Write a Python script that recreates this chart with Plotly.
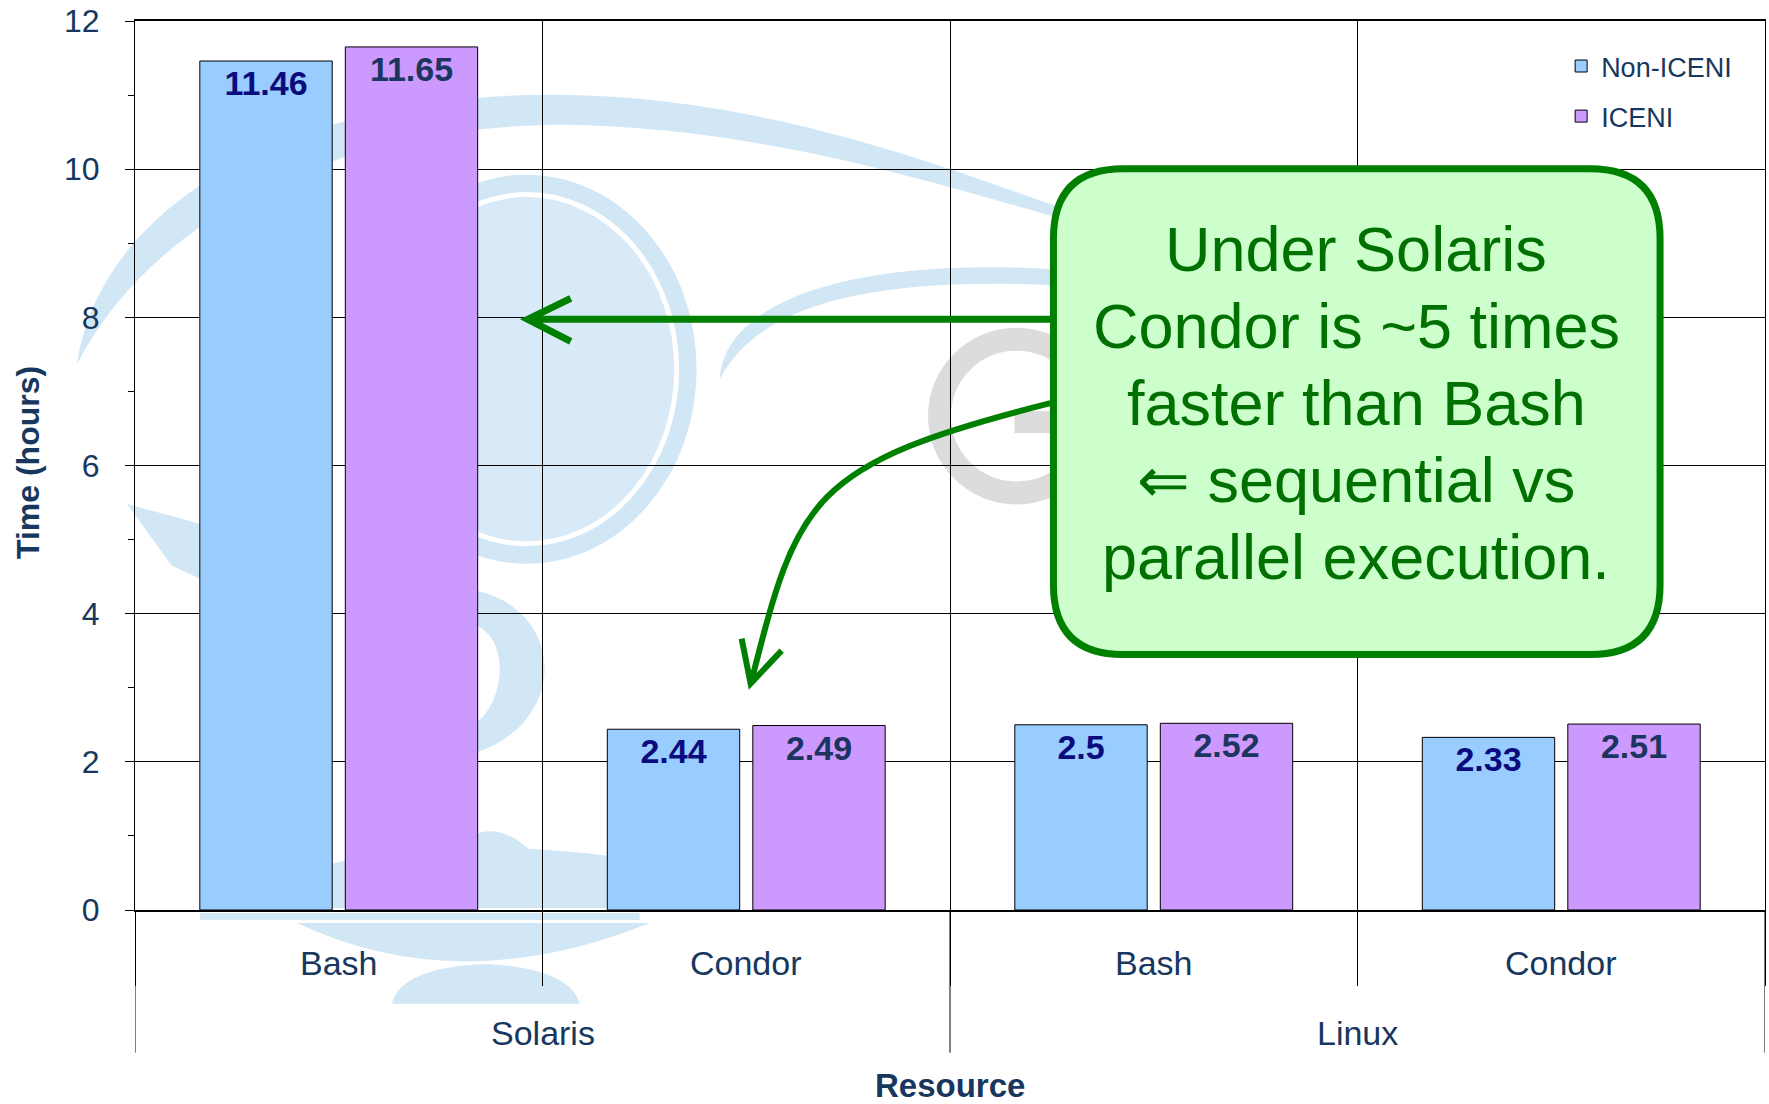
import plotly.graph_objects as go

# ---------------- data ----------------
platforms = ["Solaris", "Solaris", "Linux", "Linux"]
schedulers = ["Bash", "Condor", "Bash", "Condor"]
non_iceni = [11.46, 2.44, 2.5, 2.33]
iceni = [11.65, 2.49, 2.52, 2.51]
series_names = ["Non-ICENI", "ICENI"]
y_title = "Time (hours)"
x_title = "Resource"
callout_lines = ["Under Solaris", "Condor is ~5 times", "faster than Bash",
                 "\u21d0 sequential vs", "parallel execution."]

# ---------------- geometry helpers ----------------
W, H = 1769, 1104
L, R, T, B = 135, 3, 19, 194
PW = W - L - R
PH = H - T - B


def px(x):
    return (x - L) / PW


def py(y):
    return (T + PH - y) / PH


def path(cmds):
    out = []
    for c in cmds:
        if isinstance(c, str):
            out.append(c)
        else:
            out.append(f"{px(c[0]):.5f},{py(c[1]):.5f}")
    return " ".join(out)


cats = [f"{p} {s}" for p, s in zip(platforms, schedulers)]

TXT = "#17375e"
FONT = "Arial, Liberation Sans, sans-serif"
WM = "#d2e7f6"
WM2 = "#d8eaf7"

fig = go.Figure()
fig.add_trace(go.Bar(
    x=cats, y=non_iceni, name=series_names[0], legendgroup="a",
    marker=dict(color="#99CCFF", line=dict(color="#000000", width=1)),
    texttemplate="<b>%{y}</b>", textposition="inside", insidetextanchor="end",
    textangle=0, constraintext="none",
    textfont=dict(family=FONT, size=34, color="#0b0b7e"),
))
fig.add_trace(go.Bar(
    x=cats, y=iceni, name=series_names[1], legendgroup="b",
    marker=dict(color="#CC99FF", line=dict(color="#000000", width=1)),
    texttemplate="<b>%{y}</b>", textposition="inside", insidetextanchor="end",
    textangle=0, constraintext="none",
    textfont=dict(family=FONT, size=34, color="#1c355e"),
))

shapes = []


def wm_fill(cmds, color=WM):
    shapes.append(dict(type="path", xref="paper", yref="paper", layer="below",
                       path=path(cmds), fillcolor=color, line=dict(width=0)))


# ---- faint watermark (background logo) ----
wm_fill(["M", (77, 363), "C", (100, 200), (300, 90), (560, 93),
         "C", (760, 95), (930, 160), (1058, 205),
         "L", (1058, 216), "C", (930, 180), (760, 125), (560, 123),
         "C", (330, 125), (150, 220), (77, 363), "Z"])
wm_fill(["M", (720, 378), "C", (725, 300), (850, 255), (1058, 268),
         "L", (1058, 284), "C", (880, 275), (760, 300), (720, 378), "Z"])
wm_fill(["M", (127, 503), "L", (200, 523), "L", (200, 578), "L", (172, 565),
         "Q", (150, 535), (127, 503), "Z"])
shapes.append(dict(type="circle", xref="paper", yref="paper", layer="below",
                   x0=px(527 - 170), x1=px(527 + 170), y0=py(368 + 195), y1=py(368 - 195),
                   fillcolor=WM, line=dict(width=0)))
shapes.append(dict(type="circle", xref="paper", yref="paper", layer="below",
                   x0=px(527 - 150), x1=px(527 + 150), y0=py(368 + 175), y1=py(368 - 175),
                   fillcolor=WM2, line=dict(color="white", width=5)))
wm_fill(["M", (477, 590), "C", (565, 610), (570, 720), (477, 752),
         "L", (477, 722), "C", (505, 700), (510, 640), (477, 625), "Z"])
wm_fill(["M", (452, 850), "Q", (490, 812), (530, 850), "Z"])
wm_fill(["M", (230, 908), "Q", (300, 852), (480, 846), "Q", (640, 852), (720, 878),
         "L", (700, 908), "Z"])
wm_fill(["M", (200, 913), "L", (640, 913), "L", (640, 920), "L", (200, 920), "Z"])
wm_fill(["M", (297, 923), "Q", (460, 1000), (650, 923), "Z"])
wm_fill(["M", (392, 1004), "Q", (400, 968), (485, 964), "Q", (570, 968), (580, 1004), "Z"])
shapes.append(dict(type="circle", xref="paper", yref="paper", layer="below",
                   x0=px(1017 - 77), x1=px(1017 + 77), y0=py(415 + 77), y1=py(415 - 77),
                   fillcolor="rgba(0,0,0,0)", line=dict(color="#dcdcdc", width=23)))
shapes.append(dict(type="rect", xref="paper", yref="paper", layer="below",
                   x0=px(1015), x1=px(1052), y0=py(432), y1=py(410),
                   fillcolor="#dcdcdc", line=dict(width=0)))

# ---- long separators between platform groups (incl. outer edges) ----
bounds = [-0.5]
for i in range(1, len(platforms)):
    if platforms[i] != platforms[i - 1]:
        bounds.append(i - 0.5)
bounds.append(len(platforms) - 0.5)
for b in bounds:
    shapes.append(dict(type="line", xref="x", yref="paper", x0=b, x1=b,
                       y0=0, y1=-143 / PH, line=dict(color="#000000", width=1)))

# ---- callout box ----
bx0, bx1, by0, by1, rr = 1054, 1661, 167, 654, 70
shapes.append(dict(type="path", xref="paper", yref="paper", layer="above",
                   path=path(["M", (bx0 + rr, by0), "L", (bx1 - rr, by0),
                              "Q", (bx1, by0), (bx1, by0 + rr),
                              "L", (bx1, by1 - rr), "Q", (bx1, by1), (bx1 - rr, by1),
                              "L", (bx0 + rr, by1), "Q", (bx0, by1), (bx0, by1 - rr),
                              "L", (bx0, by0 + rr), "Q", (bx0, by0), (bx0 + rr, by0), "Z"]),
                   fillcolor="#ccffcc", line=dict(color="#008000", width=7)))

# ---- arrows ----
GREEN = "#008000"
shapes.append(dict(type="path", xref="paper", yref="paper",
                   path=path(["M", (1051, 318), "L", (530, 318)]),
                   line=dict(color=GREEN, width=7)))
shapes.append(dict(type="path", xref="paper", yref="paper",
                   path=path(["M", (571, 297), "L", (528, 318), "L", (571, 340)]),
                   line=dict(color=GREEN, width=7)))
shapes.append(dict(type="path", xref="paper", yref="paper",
                   path=path(["M", (1051, 402), "C", (808, 463), (798, 499), (752, 680)]),
                   line=dict(color=GREEN, width=6)))
shapes.append(dict(type="path", xref="paper", yref="paper",
                   path=path(["M", (742, 638), "L", (751, 683), "L", (782, 650)]),
                   line=dict(color=GREEN, width=6)))

annotations = []
for i, s in enumerate(schedulers):
    annotations.append(dict(x=i, xref="x", y=py(963), yref="paper", text=s,
                            showarrow=False, font=dict(family=FONT, size=34, color=TXT),
                            xanchor="center", yanchor="middle"))
start = 0
for i in range(1, len(platforms) + 1):
    if i == len(platforms) or platforms[i] != platforms[start]:
        annotations.append(dict(x=(start + i - 1) / 2, xref="x", y=py(1033), yref="paper",
                                text=platforms[start], showarrow=False,
                                font=dict(family=FONT, size=34, color=TXT),
                                xanchor="center", yanchor="middle"))
        start = i
annotations.append(dict(x=px(950), y=py(1105), xref="paper", yref="paper",
                        text=f"<b>{x_title}</b>", showarrow=False, borderpad=0,
                        font=dict(family=FONT, size=33, color=TXT),
                        xanchor="center", yanchor="bottom"))
annotations.append(dict(x=px(28), y=py(462), xref="paper", yref="paper",
                        text=f"<b>{y_title}</b>", showarrow=False, textangle=-90,
                        font=dict(family=FONT, size=32, color=TXT),
                        xanchor="center", yanchor="middle"))
line_y = [248, 325, 402, 479, 556]
for t, yy in zip(callout_lines, line_y):
    annotations.append(dict(x=px(1357), y=py(yy), xref="paper", yref="paper",
                            text=t, showarrow=False,
                            font=dict(family=FONT, size=63, color="#007000"),
                            xanchor="center", yanchor="middle"))

fig.update_layout(
    width=W, height=H,
    margin=dict(l=L, r=R, t=T, b=B, pad=0),
    paper_bgcolor="white", plot_bgcolor="white",
    barmode="group", bargap=0.286, bargroupgap=0.09,
    font=dict(family=FONT, color=TXT),
    showlegend=True,
    legend=dict(x=px(1562), xanchor="left", y=py(40), yanchor="top",
                font=dict(family=FONT, size=27, color=TXT),
                bgcolor="rgba(0,0,0,0)", tracegroupgap=12, traceorder="grouped"),
    shapes=shapes, annotations=annotations,
)
fig.update_xaxes(type="category", categoryorder="array", categoryarray=cats,
                 range=[-0.5, len(cats) - 0.5], showticklabels=False,
                 tickson="boundaries", ticks="outside", ticklen=74,
                 tickcolor="#000000", tickwidth=1,
                 showgrid=True, gridcolor="#000000", gridwidth=1,
                 showline=True, linecolor="#000000", linewidth=1.5, mirror=True,
                 zeroline=False)
fig.update_yaxes(range=[0, 12], tickmode="linear", tick0=0, dtick=2,
                 ticks="outside", ticklen=9, tickcolor="#000000", tickwidth=1,
                 showgrid=True, gridcolor="#000000", gridwidth=1,
                 showline=True, linecolor="#000000", linewidth=1, mirror=True,
                 zeroline=False, ticklabelstandoff=19,
                 tickfont=dict(family=FONT, size=32, color=TXT),
                 minor=dict(dtick=1, ticks="outside", ticklen=6,
                            tickcolor="#000000", showgrid=False))

fig.write_html("out.html")
